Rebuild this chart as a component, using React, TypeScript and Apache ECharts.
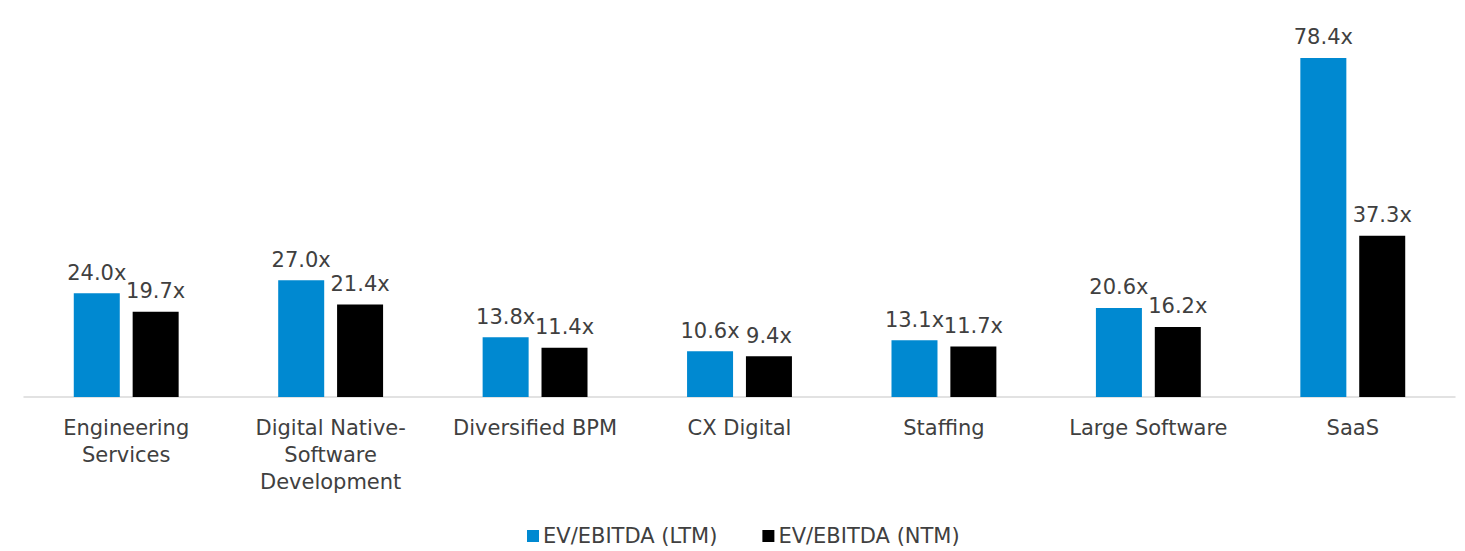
import React, { useEffect, useRef } from "react";
import * as echarts from "echarts";

const categories = [
  "Engineering\nServices",
  "Digital Native-\nSoftware\nDevelopment",
  "Diversified BPM",
  "CX Digital",
  "Staffing",
  "Large Software",
  "SaaS",
];
const ltmValues = [24.0, 27.0, 13.8, 10.6, 13.1, 20.6, 78.4];
const ntmValues = [19.7, 21.4, 11.4, 9.4, 11.7, 16.2, 37.3];
const seriesNames = ["EV/EBITDA (LTM)", "EV/EBITDA (NTM)"];

const FONT = "DejaVu Sans";
const TEXT = "#404040";

export default function App() {
  const ref = useRef<HTMLDivElement>(null);
  useEffect(() => {
    if (!ref.current) return;
    const chart = echarts.init(ref.current, undefined, { renderer: "svg" });
    const label = {
      show: true,
      position: "top",
      distance: 10,
      color: TEXT,
      fontFamily: FONT,
      fontSize: 21,
      formatter: (p: any) => `${Number(p.value).toFixed(1)}x`,
    };
    chart.setOption({
      animation: false,
      backgroundColor: "#ffffff",
      grid: { left: 24, right: 10, top: 51, bottom: 154, containLabel: false },
      legend: {
        left: 527,
        top: 524,
        icon: "rect",
        itemWidth: 12,
        itemHeight: 12,
        itemGap: 45,
        padding: 0,
        textStyle: { color: TEXT, fontFamily: FONT, fontSize: 21, lineHeight: 24, padding: [0, 0, 0, -1] },
        data: seriesNames,
      },
      xAxis: {
        type: "category",
        data: categories,
        axisLine: { show: true, lineStyle: { color: "#d9d9d9", width: 1.5 } },
        axisTick: { show: false },
        axisLabel: {
          color: TEXT,
          fontFamily: FONT,
          fontSize: 21,
          lineHeight: 27,
          margin: 17,
          interval: 0,
        },
      },
      yAxis: {
        type: "value",
        min: 0,
        max: 80,
        show: false,
        splitLine: { show: false },
      },
      series: [
        {
          name: seriesNames[0],
          type: "bar",
          data: ltmValues,
          barWidth: 46,
          barGap: "28%",
          itemStyle: { color: "#0089D1" },
          label,
        },
        {
          name: seriesNames[1],
          type: "bar",
          data: ntmValues,
          barWidth: 46,
          itemStyle: { color: "#000000" },
          label,
        },
      ],
    });
    return () => chart.dispose();
  }, []);
  return (
    <div
      ref={ref}
      style={{ position: "fixed", left: 0, top: 0, width: 1465, height: 551 }}
    />
  );
}
